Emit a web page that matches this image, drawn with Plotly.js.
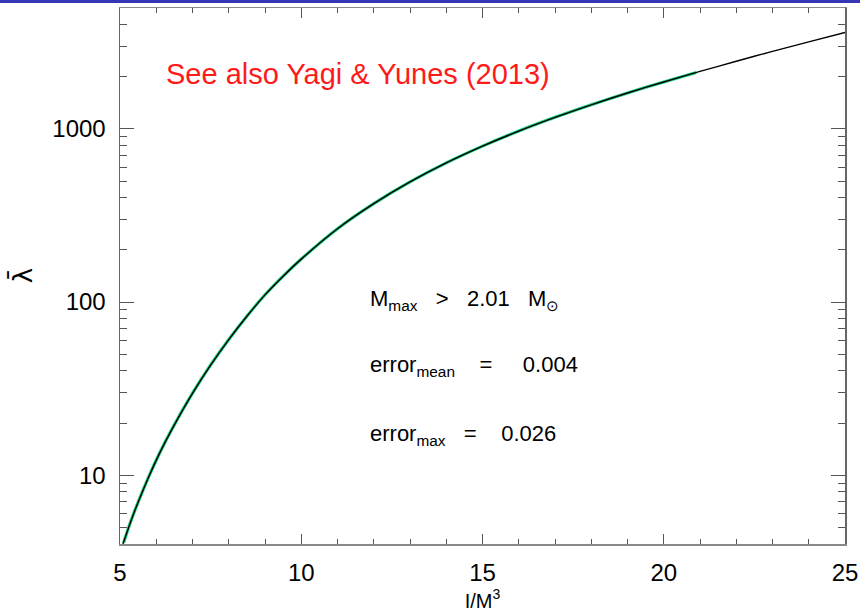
<!DOCTYPE html>
<html>
<head>
<meta charset="utf-8">
<script src="https://cdn.plot.ly/plotly-3.0.1.min.js"></script>
<style>
  html, body { margin: 0; padding: 0; background: #fff; }
  #bar { position: absolute; left: 0; top: 0; width: 860px; height: 3px; background: #3535b5; z-index: 10; }
  #chart { width: 860px; height: 612px; }
</style>
</head>
<body>
<div id="bar"></div>
<div id="chart"></div>
<script>
// I/M^3 values (x) and Love number lambda-bar (y)
const fitI      = [5.08, 5.3, 5.5, 5.8, 6.1, 6.45, 7.0, 7.5, 8.0, 8.5, 9.0, 9.5, 10, 11, 12, 13, 14, 15, 16, 17, 18, 19, 20, 21, 22, 23, 24, 25];
const fitLambda = [4.0, 5.42, 6.98, 9.86, 13.5, 18.7, 29.7, 43.2, 60.7, 82.8, 110, 141, 177, 265, 370, 494, 636, 795, 972, 1166, 1379, 1613, 1869, 2150, 2463, 2809, 3188, 3610];
const dataI      = [5.1, 5.3, 5.5, 5.8, 6.1, 6.45, 7.0, 7.5, 8.0, 8.5, 9.0, 9.5, 10, 11, 12, 13, 14, 15, 16, 17, 18, 19, 20, 20.9];
const dataLambda = [4.07, 5.43, 6.99, 9.88, 13.52, 18.73, 29.75, 43.3, 60.8, 82.9, 110.2, 141.3, 177.3, 265.4, 370.5, 494.6, 636.8, 796, 973, 1167, 1380, 1614, 1870, 2120];

const xTickVals = [5, 10, 15, 20, 25];
const yTickVals = [10, 100, 1000];
const yMinorVals = [4, 5, 6, 7, 8, 9, 20, 30, 40, 50, 60, 70, 80, 90, 200, 300, 400, 500, 600, 700, 800, 900, 2000, 3000, 4000];

const textNote = "See also Yagi &amp; Yunes (2013)";
const stats = [
  "M<sub>max</sub>&nbsp;&nbsp;&nbsp;&gt;&nbsp;&nbsp;&nbsp;2.01&nbsp;&nbsp;&nbsp;M<sub>⊙</sub>",
  "error<sub>mean</sub>&nbsp;&nbsp;&nbsp;&nbsp;=&nbsp;&nbsp;&nbsp;&nbsp;&nbsp;0.004",
  "error<sub>max</sub>&nbsp;&nbsp;&nbsp;=&nbsp;&nbsp;&nbsp;&nbsp;0.026"
];
const statsY = [103, 42.7, 17.0];
const yTitle = "λ̄";

const sans = "Liberation Sans, Arial, sans-serif";
const tickFont = { family: sans, size: 24, color: "#000" };

const traces = [
  { x: dataI, y: dataLambda, mode: "lines", line: { color: "#22d184", width: 3.2, shape: "spline", smoothing: 0.9 }, hoverinfo: "skip", showlegend: false },
  { x: fitI, y: fitLambda, mode: "lines", line: { color: "#000", width: 1.4, shape: "spline", smoothing: 0.9 }, hoverinfo: "skip", showlegend: false }
];

const annotations = [
  { xref: "paper", yref: "paper", x: 0.06, y: 0.877, xanchor: "left", yanchor: "middle",
    text: textNote, showarrow: false, font: { family: sans, size: 29, color: "#ff1a1a" } },
  { xref: "paper", yref: "paper", x: -0.135, y: 0.5, xanchor: "center", yanchor: "middle", textangle: -90,
    text: yTitle, showarrow: false, font: { family: "DejaVu Sans, sans-serif", size: 26, color: "#000" } }
].concat(stats.map((t, i) => ({
  xref: "x", yref: "y", x: 11.85, y: Math.log10(statsY[i]), xanchor: "left", yanchor: "middle",
  text: t, showarrow: false, font: { family: sans, size: 22, color: "#000" }
})));

const layout = {
  width: 860, height: 612,
  margin: { l: 120, r: 15, t: 8, b: 68 },
  paper_bgcolor: "#fff", plot_bgcolor: "#fff",
  showlegend: false,
  xaxis: {
    range: [5, 25], tickvals: xTickVals, ticks: "inside", ticklen: 10, tickwidth: 1, tickcolor: "#555",
    showline: true, linecolor: "#888", linewidth: 1.5, mirror: "allticks",
    showgrid: false, zeroline: false, tickfont: tickFont, ticklabelstandoff: 7,
    minor: { dtick: 1, ticks: "inside", ticklen: 5, tickcolor: "#555", showgrid: false },
    title: { text: "I/M<sup>3</sup>", font: { family: sans, size: 20, color: "#000" }, standoff: 6 }
  },
  yaxis: {
    type: "log", range: [Math.log10(4), Math.log10(5000)],
    tickvals: yTickVals, ticktext: ["10", "100", "1000"], ticks: "inside", ticklen: 14, tickwidth: 1, tickcolor: "#555",
    showline: true, linecolor: "#666", linewidth: 1.5, mirror: "allticks",
    showgrid: false, zeroline: false, tickfont: tickFont, ticklabelstandoff: 8,
    minor: { tickvals: yMinorVals, ticks: "inside", ticklen: 7, tickcolor: "#555", showgrid: false }
  },
  annotations: annotations
};

Plotly.newPlot("chart", traces, layout, { displayModeBar: false, staticPlot: true });
</script>
</body>
</html>
